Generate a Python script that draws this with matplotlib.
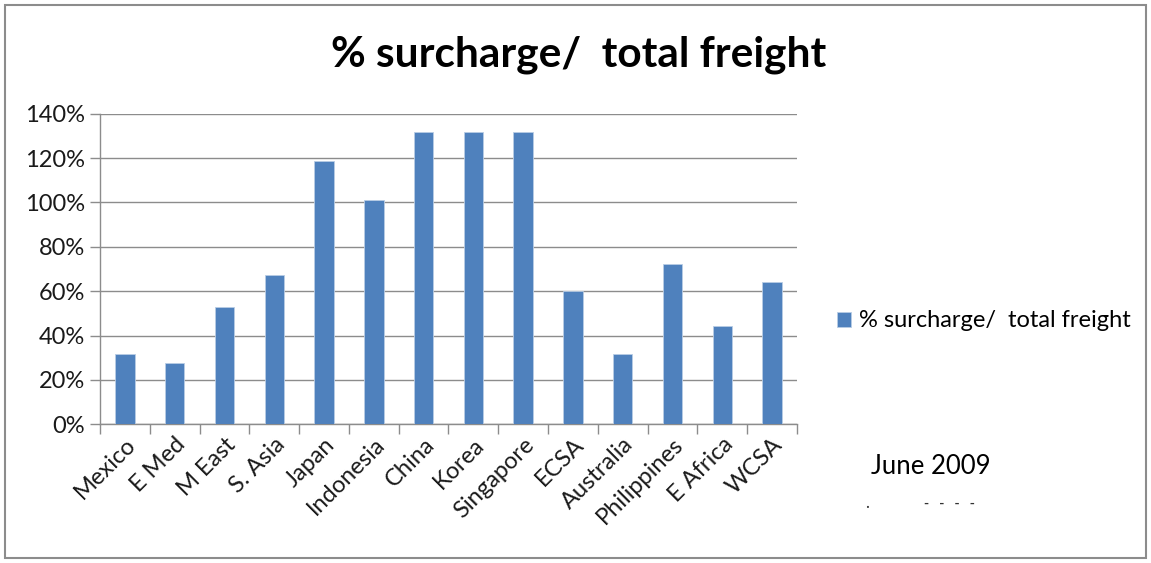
import matplotlib.pyplot as plt
from matplotlib.patches import Rectangle
from matplotlib.ticker import FuncFormatter, FixedLocator
import numpy as np

plt.rcParams["font.family"] = ["Lato", "DejaVu Sans"]

regions = ["Mexico", "E Med", "M East", "S. Asia", "Japan", "Indonesia", "China",
           "Korea", "Singapore", "ECSA", "Australia", "Philippines", "E Africa", "WCSA"]
surcharge_pct = [31.6, 27.8, 52.7, 67.2, 118.7, 101.0, 131.9,
                 131.9, 131.9, 60.1, 31.6, 72.1, 44.3, 64.3]
y_ticks = [0, 20, 40, 60, 80, 100, 120, 140]
series_name = "% surcharge/  total freight"

bar_color = "#4F81BD"
grid_color = "#8C8C8C"

fig = plt.figure(figsize=(11.51, 5.63), dpi=100)
ax = fig.add_axes([0.0869, 0.2464, 0.6055, 0.5517])

x = np.arange(len(regions))
ax.bar(x, surcharge_pct, width=0.39, color=bar_color, edgecolor="#B9CDE5",
       linewidth=0.6, label=series_name, zorder=3)

ax.set_xlim(-0.5, len(regions) - 0.5)
ax.set_ylim(0, 140)
ax.set_yticks(y_ticks)
ax.yaxis.set_major_formatter(FuncFormatter(lambda v, p: f"{v:.0f}%"))
ax.grid(axis="y", color=grid_color, linewidth=1.0, zorder=0)

# category labels centred on bars, tick marks between categories
ax.set_xticks(x)
ax.set_xticklabels(regions, rotation=45, ha="right", rotation_mode="anchor",
                   fontsize=17, color="#1A1A1A")
ax.tick_params(axis="x", which="major", length=0, pad=7)
ax.xaxis.set_minor_locator(FixedLocator(np.arange(-0.5, len(regions), 1.0)))
ax.tick_params(axis="x", which="minor", length=7, width=1.0, color=grid_color)
ax.tick_params(axis="y", length=7, width=1.0, color=grid_color,
               labelsize=17, labelcolor="#1A1A1A", pad=4)

for side in ["top", "right"]:
    ax.spines[side].set_visible(False)
for side in ["left", "bottom"]:
    ax.spines[side].set_color(grid_color)
    ax.spines[side].set_linewidth(1.0)

fig.text(0.503, 0.902, series_name, ha="center", va="center",
         fontsize=30.5, fontweight="bold", color="black")

fig.legend(loc="center left", bbox_to_anchor=(0.719, 0.43), frameon=False,
           fontsize=17, handlelength=0.6, handleheight=0.6,
           handletextpad=0.35, borderaxespad=0)

fig.text(0.757, 0.172, "June 2009", ha="left", va="center", fontsize=18.5)
fig.text(0.752, 0.106, ".", ha="left", va="center", fontsize=12, color="#333333")
fig.text(0.803, 0.104, "-   -   -   -", ha="left", va="center",
         fontsize=10, fontweight="bold", color="#333333")

# outer chart frame
fig.patches.append(Rectangle((0.004, 0.009), 0.992, 0.982, transform=fig.transFigure,
                             fill=False, edgecolor="#8C8C8C", linewidth=1.5))

fig.savefig("out.png", dpi=100)
